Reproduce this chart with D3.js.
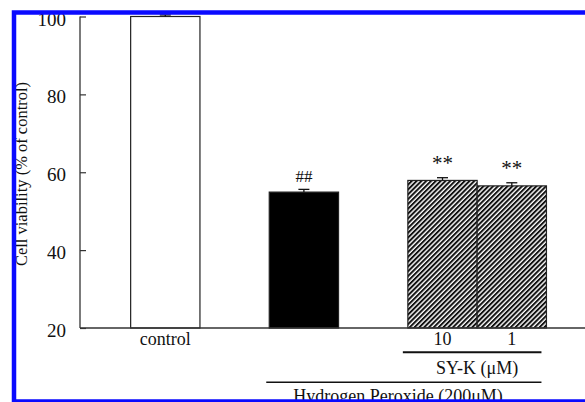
<!DOCTYPE html>
<html>
<head>
<meta charset="utf-8">
<script src="https://cdn.jsdelivr.net/npm/d3@7"></script>
<style>
  html, body { margin: 0; padding: 0; background: #fff; }
  svg { display: block; }
  svg text { font-family: "Liberation Serif", "DejaVu Serif", "Times New Roman", serif !important; fill: #111; }
</style>
</head>
<body>
<svg id="chart" width="585" height="402"></svg>
<script>
// ---- data ----
const categories = ["control", "H2O2", "SY-K 10", "SY-K 1"];
const xLabels = ["control", "", "10", "1"];
const positions = [1, 3, 5, 6];
const values = [100, 54.9, 57.9, 56.5];
const errors = [0.4, 0.7, 0.7, 0.8];
const marks = ["", "##", "**", "**"];
const fills = ["white", "black", "hatch", "hatch"];
const yTicks = [20, 40, 60, 80, 100];
const axisTitle = "Cell viability (% of control)";
const groupLabel1 = "SY-K (\u03BCM)";
const groupLabel2 = "Hydrogen Peroxide (200\u03BCM)";

const SERIF = "'Liberation Serif', 'DejaVu Serif', 'Times New Roman', serif";

// ---- layout ----
const svg = d3.select("#chart");
const y = d3.scaleLinear().domain([20, 100]).range([328, 16.5]);
const x = d3.scaleLinear().domain([0, 1]).range([96, 165.3]);
const barW = x(1) - x(0);

const defs = svg.append("defs");
const pat = defs.append("pattern")
  .attr("id", "hatch").attr("patternUnits", "userSpaceOnUse")
  .attr("width", 3.4).attr("height", 3.4)
  .attr("patternTransform", "rotate(45)");
pat.append("rect").attr("width", 3.4).attr("height", 3.4).attr("fill", "white");
pat.append("rect").attr("x", 0).attr("y", 0).attr("width", 2.0).attr("height", 3.4).attr("fill", "#111");

// bars
svg.selectAll("rect.bar").data(values).enter().append("rect")
  .attr("class", "bar")
  .attr("x", (d, i) => x(positions[i]) - barW / 2)
  .attr("width", barW)
  .attr("y", d => y(d))
  .attr("height", d => y(20) - y(d))
  .attr("fill", (d, i) => fills[i] === "hatch" ? "url(#hatch)" : fills[i])
  .attr("stroke", "#222").attr("stroke-width", 1.2);

// error bars
const eg = svg.append("g").attr("stroke", "#111").attr("stroke-width", 1.3);
values.forEach((v, i) => {
  const cx = x(positions[i]);
  eg.append("line").attr("x1", cx).attr("x2", cx).attr("y1", y(v)).attr("y2", y(v + errors[i]));
  eg.append("line").attr("x1", cx - 5.5).attr("x2", cx + 5.5).attr("y1", y(v + errors[i])).attr("y2", y(v + errors[i]));
});

// significance marks
svg.selectAll("text.mark").data(marks).enter().append("text")
  .attr("class", "mark")
  .attr("font-family", SERIF)
  .attr("x", (d, i) => x(positions[i]))
  .attr("y", (d, i) => y(values[i] + errors[i]) - (d === "##" ? 7 : 8))
  .attr("text-anchor", "middle")
  .attr("font-size", (d) => d === "##" ? 17 : 21)
  .text(d => d);

// y axis
const yAxis = d3.axisLeft(y).tickValues(yTicks).tickSize(-6).tickPadding(14).tickFormat(d3.format("d"));
const ga = svg.append("g").attr("transform", "translate(80,0)").call(yAxis)
  .attr("font-family", SERIF);
ga.select(".domain").attr("stroke", "#333").attr("stroke-width", 1.3).attr("d", `M0,${y(100)}V${y(20)}`);
ga.selectAll(".tick line").attr("stroke", "#333").attr("stroke-width", 1.2);
ga.selectAll(".tick text").attr("font-size", 19).attr("font-family", SERIF)
  .attr("fill", "#111").attr("dy", "0.45em");

// x baseline
svg.append("line").attr("x1", 80).attr("x2", 585).attr("y1", y(20)).attr("y2", y(20))
  .attr("stroke", "#333").attr("stroke-width", 1.3);

// category labels
svg.selectAll("text.xl").data(xLabels).enter().append("text")
  .attr("class", "xl")
  .attr("font-family", SERIF)
  .attr("x", (d, i) => x(positions[i]))
  .attr("y", 345)
  .attr("text-anchor", "middle").attr("font-size", 18)
  .text(d => d);

// group lines and labels
svg.append("line").attr("x1", x(5) - barW / 2 - 5).attr("x2", x(6) + barW / 2 - 5)
  .attr("y1", 352.3).attr("y2", 352.3).attr("stroke", "#111").attr("stroke-width", 2);
svg.append("text").attr("font-family", SERIF).attr("x", (x(5) + x(6)) / 2).attr("y", 374)
  .attr("text-anchor", "middle").attr("font-size", 18).text(groupLabel1);
svg.append("line").attr("x1", x(3) - barW / 2 - 3).attr("x2", x(6) + barW / 2 - 5)
  .attr("y1", 382.3).attr("y2", 382.3).attr("stroke", "#111").attr("stroke-width", 1.4);
svg.append("text").attr("font-family", SERIF).attr("x", 398).attr("y", 401.5)
  .attr("text-anchor", "middle").attr("font-size", 18).text(groupLabel2);

// y title
svg.append("text").attr("font-family", SERIF).attr("transform", "translate(27,174) rotate(-90)")
  .attr("text-anchor", "middle").attr("font-size", 16.5).text(axisTitle);

// blue frame
svg.append("rect").attr("x", 14).attr("y", 12.5).attr("width", 620).attr("height", 389)
  .attr("fill", "none").attr("stroke", "#0a0aff").attr("stroke-width", 4.5);
</script>
</body>
</html>
